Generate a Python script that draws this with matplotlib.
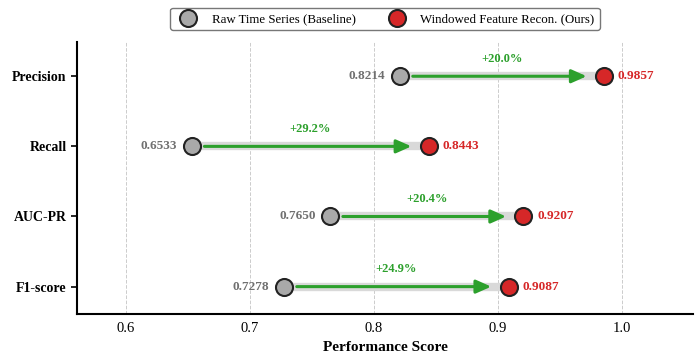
import matplotlib
matplotlib.use("Agg")
import matplotlib.pyplot as plt

plt.rcParams['font.family'] = ['Liberation Serif', 'DejaVu Serif']

metrics = ['Precision', 'Recall', 'AUC-PR', 'F1-score']
baseline = [0.8214, 0.6533, 0.7650, 0.7278]
ours = [0.9857, 0.8443, 0.9207, 0.9087]
gains = ['+20.0%', '+29.2%', '+20.4%', '+24.9%']
xticks = [0.6, 0.7, 0.8, 0.9, 1.0]

c_base = '#a9a9a9'
c_ours = '#d62728'
c_arrow = '#2ca02c'

fig, ax = plt.subplots(figsize=(7, 3.58), dpi=100)
fig.subplots_adjust(left=0.11, right=0.99, top=0.883, bottom=0.123)

ypos = list(range(len(metrics)))[::-1]

for y, b, o, g in zip(ypos, baseline, ours, gains):
    # light connector
    ax.plot([b, o], [y, y], color='#d9d9d9', lw=6, zorder=1, solid_capstyle='butt')
    # arrow
    ax.annotate('', xy=(o - 0.014, y), xytext=(b + 0.01, y),
                arrowprops=dict(arrowstyle='-|>,head_length=0.9,head_width=0.4',
                                color=c_arrow, lw=2.2, shrinkA=0, shrinkB=0),
                zorder=2)
    ax.text((b + o) / 2, y + 0.25, g, color=c_arrow, fontsize=9,
            fontweight='bold', ha='center', va='center')
    ax.text(b - 0.012, y, f'{b:.4f}', color='#707070', fontsize=9.5,
            fontweight='bold', ha='right', va='center')
    ax.text(o + 0.011, y, f'{o:.4f}', color=c_ours, fontsize=9.5,
            fontweight='bold', ha='left', va='center')

ax.scatter(baseline, ypos, s=150, color=c_base, edgecolor='#222222', lw=1.5,
           zorder=3, label='Raw Time Series (Baseline)')
ax.scatter(ours, ypos, s=150, color=c_ours, edgecolor='#222222', lw=1.5,
           zorder=3, label='Windowed Feature Recon. (Ours)')

ax.set_yticks(ypos)
ax.set_yticklabels(metrics, fontsize=10, fontweight='bold')
ax.set_xticks(xticks)
ax.set_xticklabels([f'{t:.1f}' for t in xticks], fontsize=10.5)
ax.set_xlim(0.5605, 1.0575)
ax.set_ylim(-0.39, 3.49)
ax.set_xlabel('Performance Score', fontsize=11, fontweight='bold')

ax.grid(axis='x', linestyle='--', color='#cccccc', lw=0.7)
ax.set_axisbelow(True)
for s in ['top', 'right']:
    ax.spines[s].set_visible(False)
for s in ['left', 'bottom']:
    ax.spines[s].set_linewidth(1.5)
ax.tick_params(axis='y', length=4, width=1.2)
ax.tick_params(axis='x', length=0, pad=6)

ax.legend(loc='lower center', bbox_to_anchor=(0.5, 1.02), ncol=2,
          fontsize=9.3, frameon=True, edgecolor='#555555', fancybox=True,
          borderpad=0.4, columnspacing=2.2, handletextpad=0.8)

fig.savefig('out.png', dpi=100)
